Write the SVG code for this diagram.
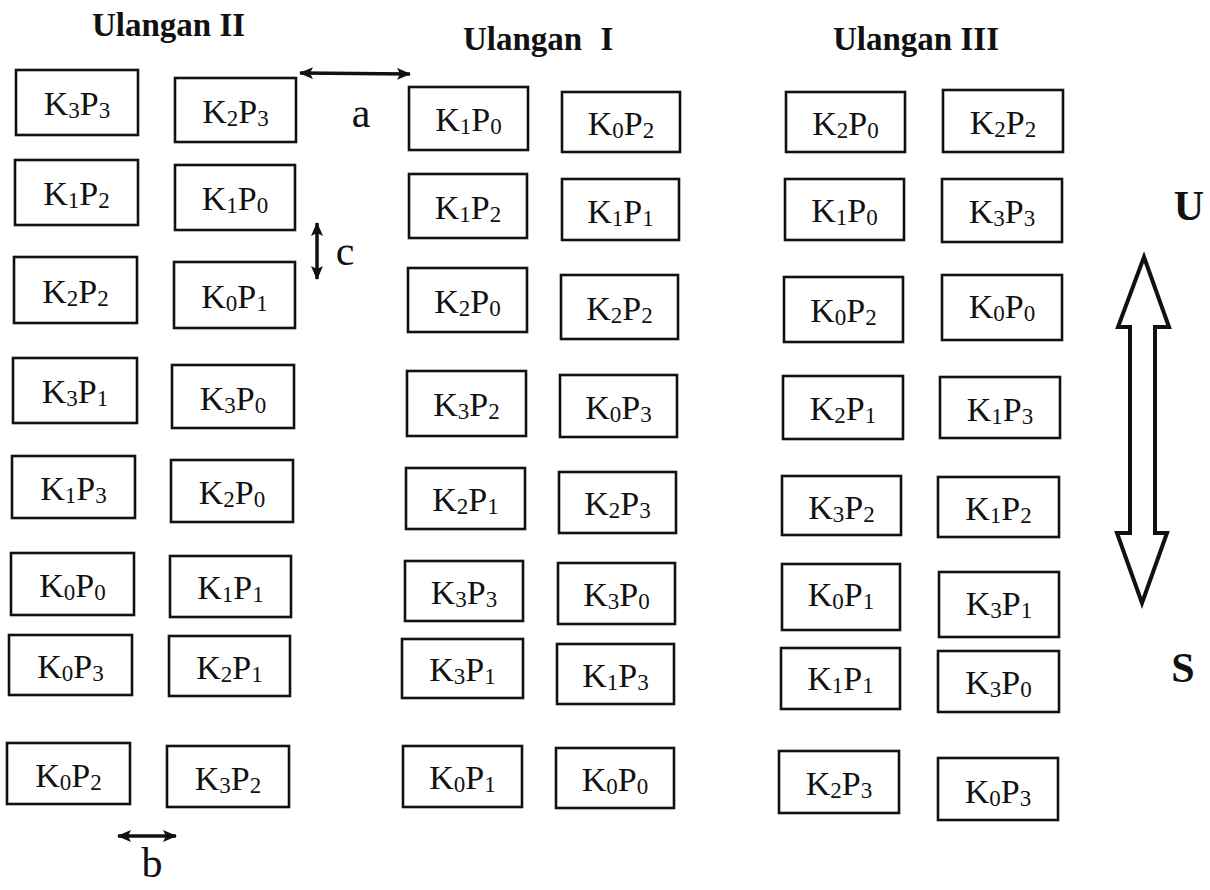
<svg xmlns="http://www.w3.org/2000/svg" width="1210" height="890" viewBox="0 0 1210 890">
<defs>
<style>
.box{fill:none;stroke:#111;stroke-width:2.6}
.lbl{font-family:"Liberation Serif","Times New Roman",serif;font-size:34px;fill:#111;text-anchor:middle}
.s{font-size:23px}
.title{font-family:"Liberation Serif","Times New Roman",serif;font-size:33px;font-weight:bold;fill:#111}
.dir{font-family:"Liberation Serif","Times New Roman",serif;font-size:42px;font-weight:bold;fill:#111;text-anchor:middle}
.dim{font-family:"Liberation Serif","Times New Roman",serif;font-size:42px;fill:#111;text-anchor:middle}
.dl{stroke:#111;stroke-width:3.5;fill:none}
</style>
<marker id="ah" viewBox="0 0 14 12" refX="13" refY="6" markerWidth="14" markerHeight="12" markerUnits="userSpaceOnUse" orient="auto-start-reverse">
<path d="M0,0 L14,6 L0,12 L3,6 z" fill="#111"/>
</marker>
</defs>
<rect width="1210" height="890" fill="#fff"/>

<text class="title" x="92" y="36">Ulangan II</text>
<text class="title" x="463" y="50">Ulangan <tspan dx="10">I</tspan></text>
<text class="title" x="833" y="50">Ulangan III</text>

<!-- Ulangan II -->
<g id="u2-k3p3"><rect class="box" x="16" y="70" width="122" height="65"/><text class="lbl" x="77" y="115">K<tspan class="s" dy="3">3</tspan><tspan dy="-3">P</tspan><tspan class="s" dy="3">3</tspan></text></g>
<g id="u2-k2p3"><rect class="box" x="175" y="78" width="121" height="64"/><text class="lbl" x="235.5" y="123">K<tspan class="s" dy="3">2</tspan><tspan dy="-3">P</tspan><tspan class="s" dy="3">3</tspan></text></g>
<g id="u2-k1p2"><rect class="box" x="15" y="160" width="123" height="65"/><text class="lbl" x="76.5" y="205">K<tspan class="s" dy="3">1</tspan><tspan dy="-3">P</tspan><tspan class="s" dy="3">2</tspan></text></g>
<g id="u2-k1p0"><rect class="box" x="175" y="165" width="120" height="65"/><text class="lbl" x="235" y="210">K<tspan class="s" dy="3">1</tspan><tspan dy="-3">P</tspan><tspan class="s" dy="3">0</tspan></text></g>
<g id="u2-k2p2"><rect class="box" x="14" y="257" width="123" height="66"/><text class="lbl" x="75.5" y="303">K<tspan class="s" dy="3">2</tspan><tspan dy="-3">P</tspan><tspan class="s" dy="3">2</tspan></text></g>
<g id="u2-k0p1"><rect class="box" x="174" y="262" width="121" height="66"/><text class="lbl" x="234.5" y="308">K<tspan class="s" dy="3">0</tspan><tspan dy="-3">P</tspan><tspan class="s" dy="3">1</tspan></text></g>
<g id="u2-k3p1"><rect class="box" x="13" y="358" width="124" height="65"/><text class="lbl" x="75" y="403">K<tspan class="s" dy="3">3</tspan><tspan dy="-3">P</tspan><tspan class="s" dy="3">1</tspan></text></g>
<g id="u2-k3p0"><rect class="box" x="172" y="365" width="122" height="63"/><text class="lbl" x="233" y="410">K<tspan class="s" dy="3">3</tspan><tspan dy="-3">P</tspan><tspan class="s" dy="3">0</tspan></text></g>
<g id="u2-k1p3"><rect class="box" x="12" y="456" width="123" height="62"/><text class="lbl" x="73.5" y="500">K<tspan class="s" dy="3">1</tspan><tspan dy="-3">P</tspan><tspan class="s" dy="3">3</tspan></text></g>
<g id="u2-k2p0"><rect class="box" x="171" y="460" width="122" height="62"/><text class="lbl" x="232" y="504">K<tspan class="s" dy="3">2</tspan><tspan dy="-3">P</tspan><tspan class="s" dy="3">0</tspan></text></g>
<g id="u2-k0p0"><rect class="box" x="11" y="553" width="123" height="62"/><text class="lbl" x="72.5" y="597">K<tspan class="s" dy="3">0</tspan><tspan dy="-3">P</tspan><tspan class="s" dy="3">0</tspan></text></g>
<g id="u2-k1p1"><rect class="box" x="170" y="556" width="121" height="61"/><text class="lbl" x="230.5" y="599">K<tspan class="s" dy="3">1</tspan><tspan dy="-3">P</tspan><tspan class="s" dy="3">1</tspan></text></g>
<g id="u2-k0p3"><rect class="box" x="9" y="635" width="123" height="60"/><text class="lbl" x="70.5" y="678">K<tspan class="s" dy="3">0</tspan><tspan dy="-3">P</tspan><tspan class="s" dy="3">3</tspan></text></g>
<g id="u2-k2p1"><rect class="box" x="169" y="636" width="121" height="60"/><text class="lbl" x="229.5" y="679">K<tspan class="s" dy="3">2</tspan><tspan dy="-3">P</tspan><tspan class="s" dy="3">1</tspan></text></g>
<g id="u2-k0p2"><rect class="box" x="7" y="743" width="123" height="61"/><text class="lbl" x="68.5" y="787">K<tspan class="s" dy="3">0</tspan><tspan dy="-3">P</tspan><tspan class="s" dy="3">2</tspan></text></g>
<g id="u2-k3p2"><rect class="box" x="167" y="746" width="122" height="61"/><text class="lbl" x="228" y="790">K<tspan class="s" dy="3">3</tspan><tspan dy="-3">P</tspan><tspan class="s" dy="3">2</tspan></text></g>

<!-- Ulangan I -->
<g id="u1-k1p0"><rect class="box" x="409" y="87" width="119" height="63"/><text class="lbl" x="468.5" y="131">K<tspan class="s" dy="3">1</tspan><tspan dy="-3">P</tspan><tspan class="s" dy="3">0</tspan></text></g>
<g id="u1-k0p2"><rect class="box" x="562" y="92" width="118" height="60"/><text class="lbl" x="621" y="135">K<tspan class="s" dy="3">0</tspan><tspan dy="-3">P</tspan><tspan class="s" dy="3">2</tspan></text></g>
<g id="u1-k1p2"><rect class="box" x="409" y="174" width="118" height="64"/><text class="lbl" x="468" y="219">K<tspan class="s" dy="3">1</tspan><tspan dy="-3">P</tspan><tspan class="s" dy="3">2</tspan></text></g>
<g id="u1-k1p1"><rect class="box" x="562" y="179" width="117" height="61"/><text class="lbl" x="620.5" y="223">K<tspan class="s" dy="3">1</tspan><tspan dy="-3">P</tspan><tspan class="s" dy="3">1</tspan></text></g>
<g id="u1-k2p0"><rect class="box" x="408" y="268" width="119" height="64"/><text class="lbl" x="467.5" y="313">K<tspan class="s" dy="3">2</tspan><tspan dy="-3">P</tspan><tspan class="s" dy="3">0</tspan></text></g>
<g id="u1-k2p2"><rect class="box" x="561" y="275" width="117" height="64"/><text class="lbl" x="619.5" y="320">K<tspan class="s" dy="3">2</tspan><tspan dy="-3">P</tspan><tspan class="s" dy="3">2</tspan></text></g>
<g id="u1-k3p2"><rect class="box" x="407" y="371" width="119" height="65"/><text class="lbl" x="466.5" y="416">K<tspan class="s" dy="3">3</tspan><tspan dy="-3">P</tspan><tspan class="s" dy="3">2</tspan></text></g>
<g id="u1-k0p3"><rect class="box" x="560" y="375" width="117" height="62"/><text class="lbl" x="618.5" y="419">K<tspan class="s" dy="3">0</tspan><tspan dy="-3">P</tspan><tspan class="s" dy="3">3</tspan></text></g>
<g id="u1-k2p1"><rect class="box" x="406" y="468" width="119" height="61"/><text class="lbl" x="465.5" y="511">K<tspan class="s" dy="3">2</tspan><tspan dy="-3">P</tspan><tspan class="s" dy="3">1</tspan></text></g>
<g id="u1-k2p3"><rect class="box" x="559" y="472" width="117" height="61"/><text class="lbl" x="617.5" y="515">K<tspan class="s" dy="3">2</tspan><tspan dy="-3">P</tspan><tspan class="s" dy="3">3</tspan></text></g>
<g id="u1-k3p3"><rect class="box" x="405" y="561" width="118" height="60"/><text class="lbl" x="464" y="604">K<tspan class="s" dy="3">3</tspan><tspan dy="-3">P</tspan><tspan class="s" dy="3">3</tspan></text></g>
<g id="u1-k3p0"><rect class="box" x="558" y="563" width="117" height="61"/><text class="lbl" x="616.5" y="606">K<tspan class="s" dy="3">3</tspan><tspan dy="-3">P</tspan><tspan class="s" dy="3">0</tspan></text></g>
<g id="u1-k3p1"><rect class="box" x="402" y="639" width="121" height="59"/><text class="lbl" x="462.5" y="681">K<tspan class="s" dy="3">3</tspan><tspan dy="-3">P</tspan><tspan class="s" dy="3">1</tspan></text></g>
<g id="u1-k1p3"><rect class="box" x="557" y="644" width="117" height="60"/><text class="lbl" x="615.5" y="687">K<tspan class="s" dy="3">1</tspan><tspan dy="-3">P</tspan><tspan class="s" dy="3">3</tspan></text></g>
<g id="u1-k0p1"><rect class="box" x="403" y="746" width="119" height="61"/><text class="lbl" x="462.5" y="789">K<tspan class="s" dy="3">0</tspan><tspan dy="-3">P</tspan><tspan class="s" dy="3">1</tspan></text></g>
<g id="u1-k0p0"><rect class="box" x="556" y="748" width="118" height="60"/><text class="lbl" x="615" y="791">K<tspan class="s" dy="3">0</tspan><tspan dy="-3">P</tspan><tspan class="s" dy="3">0</tspan></text></g>

<!-- Ulangan III -->
<g id="u3-k2p0"><rect class="box" x="786" y="92" width="119" height="60"/><text class="lbl" x="845.5" y="135">K<tspan class="s" dy="3">2</tspan><tspan dy="-3">P</tspan><tspan class="s" dy="3">0</tspan></text></g>
<g id="u3-k2p2"><rect class="box" x="943" y="90" width="120" height="62"/><text class="lbl" x="1003" y="134">K<tspan class="s" dy="3">2</tspan><tspan dy="-3">P</tspan><tspan class="s" dy="3">2</tspan></text></g>
<g id="u3-k1p0"><rect class="box" x="785" y="179" width="119" height="61"/><text class="lbl" x="844.5" y="222">K<tspan class="s" dy="3">1</tspan><tspan dy="-3">P</tspan><tspan class="s" dy="3">0</tspan></text></g>
<g id="u3-k3p3"><rect class="box" x="942" y="179" width="120" height="63"/><text class="lbl" x="1002" y="223">K<tspan class="s" dy="3">3</tspan><tspan dy="-3">P</tspan><tspan class="s" dy="3">3</tspan></text></g>
<g id="u3-k0p2"><rect class="box" x="784" y="277" width="119" height="65"/><text class="lbl" x="843.5" y="322">K<tspan class="s" dy="3">0</tspan><tspan dy="-3">P</tspan><tspan class="s" dy="3">2</tspan></text></g>
<g id="u3-k0p0"><rect class="box" x="942" y="275" width="120" height="65"/><text class="lbl" x="1002" y="318">K<tspan class="s" dy="3">0</tspan><tspan dy="-3">P</tspan><tspan class="s" dy="3">0</tspan></text></g>
<g id="u3-k2p1"><rect class="box" x="783" y="376" width="120" height="63"/><text class="lbl" x="843" y="420">K<tspan class="s" dy="3">2</tspan><tspan dy="-3">P</tspan><tspan class="s" dy="3">1</tspan></text></g>
<g id="u3-k1p3"><rect class="box" x="940" y="377" width="120" height="61"/><text class="lbl" x="1000" y="421">K<tspan class="s" dy="3">1</tspan><tspan dy="-3">P</tspan><tspan class="s" dy="3">3</tspan></text></g>
<g id="u3-k3p2"><rect class="box" x="782" y="476" width="119" height="59"/><text class="lbl" x="841.5" y="519">K<tspan class="s" dy="3">3</tspan><tspan dy="-3">P</tspan><tspan class="s" dy="3">2</tspan></text></g>
<g id="u3-k1p2"><rect class="box" x="938" y="477" width="121" height="60"/><text class="lbl" x="998.5" y="520">K<tspan class="s" dy="3">1</tspan><tspan dy="-3">P</tspan><tspan class="s" dy="3">2</tspan></text></g>
<g id="u3-k0p1"><rect class="box" x="782" y="564" width="118" height="66"/><text class="lbl" x="841" y="606">K<tspan class="s" dy="3">0</tspan><tspan dy="-3">P</tspan><tspan class="s" dy="3">1</tspan></text></g>
<g id="u3-k3p1"><rect class="box" x="939" y="572" width="120" height="65"/><text class="lbl" x="999" y="615">K<tspan class="s" dy="3">3</tspan><tspan dy="-3">P</tspan><tspan class="s" dy="3">1</tspan></text></g>
<g id="u3-k1p1"><rect class="box" x="781" y="648" width="119" height="61"/><text class="lbl" x="840.5" y="690">K<tspan class="s" dy="3">1</tspan><tspan dy="-3">P</tspan><tspan class="s" dy="3">1</tspan></text></g>
<g id="u3-k3p0"><rect class="box" x="938" y="651" width="121" height="61"/><text class="lbl" x="998.5" y="694">K<tspan class="s" dy="3">3</tspan><tspan dy="-3">P</tspan><tspan class="s" dy="3">0</tspan></text></g>
<g id="u3-k2p3"><rect class="box" x="779" y="751" width="120" height="62"/><text class="lbl" x="839" y="795">K<tspan class="s" dy="3">2</tspan><tspan dy="-3">P</tspan><tspan class="s" dy="3">3</tspan></text></g>
<g id="u3-k0p3"><rect class="box" x="938" y="758" width="120" height="62"/><text class="lbl" x="998" y="803">K<tspan class="s" dy="3">0</tspan><tspan dy="-3">P</tspan><tspan class="s" dy="3">3</tspan></text></g>

<!-- dimension arrows -->
<g id="connectors">
<line class="dl" x1="300" y1="73" x2="410" y2="74" marker-start="url(#ah)" marker-end="url(#ah)"/>
<line class="dl" x1="317" y1="223" x2="317" y2="279" marker-start="url(#ah)" marker-end="url(#ah)"/>
<line class="dl" x1="118" y1="836" x2="176" y2="836" marker-start="url(#ah)" marker-end="url(#ah)"/>
</g>
<text class="dim" x="361" y="127">a</text>
<text class="dim" x="345" y="265">c</text>
<text class="dim" x="152" y="877">b</text>

<!-- direction arrow -->
<g id="direction">
<path d="M1144,257 L1169,327 L1155,327 L1155,533 L1167,533 L1142,603 L1117,533 L1130,533 L1130,327 L1118,327 Z" fill="none" stroke="#111" stroke-width="4" stroke-linejoin="miter"/>
<text class="dir" x="1189" y="220">U</text>
<text class="dir" x="1183" y="682">S</text>
</g>
</svg>
